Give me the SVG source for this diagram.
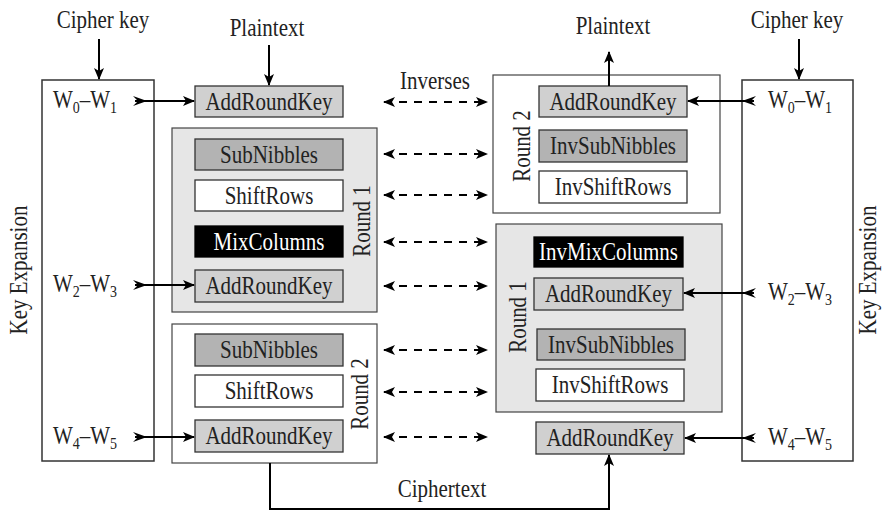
<svg xmlns="http://www.w3.org/2000/svg" width="885" height="511" viewBox="0 0 885 511">
<style>
text{font-family:"Liberation Serif","Times New Roman",serif;fill:#222;font-size:21px;}
.t{text-anchor:middle;}
.sub{font-size:14px;}
.ke{fill:#fff;stroke:#333;stroke-width:1.5;}
.rd{fill:#fff;stroke:#444;stroke-width:1.2;}
.rdg{fill:#e6e6e6;stroke:#444;stroke-width:1.2;}
.ark{fill:#d0d0d0;stroke:#333;stroke-width:1.3;}
.sub-b{fill:#b3b3b3;stroke:#333;stroke-width:1.3;}
.wh{fill:#fff;stroke:#333;stroke-width:1.3;}
.bk{fill:#000;stroke:#000;stroke-width:1.3;}
.wt{fill:#fff;}
.c{fill:none;stroke:#000;stroke-width:2;}
.d{fill:none;stroke:#000;stroke-width:2;stroke-dasharray:8,7;}
</style>
<defs>
<marker id="head" viewBox="0 0 12 10" refX="11" refY="5" markerWidth="12" markerHeight="10" markerUnits="userSpaceOnUse" orient="auto">
<path d="M0,0 L12,5 L0,10 L3,5 z" fill="#000"/>
</marker>
<marker id="dhead" viewBox="0 0 12 10" refX="11" refY="5" markerWidth="12" markerHeight="10" markerUnits="userSpaceOnUse" orient="auto-start-reverse">
<path d="M0,0 L12,5 L0,10 L3,5 z" fill="#000"/>
</marker>
<marker id="tail" viewBox="0 0 14 10" refX="2" refY="5" markerWidth="14" markerHeight="10" markerUnits="userSpaceOnUse" orient="auto">
<path d="M0,0 L14,5 L0,10 L5,5 z" fill="#000"/>
</marker>
</defs>

<g id="key-expansion-left">
<rect class="ke" x="42" y="80" width="112" height="381"/>
<text class="t" transform="translate(27,270) rotate(-90) scale(1,1.17)">Key Expansion</text>
<text transform="translate(53,108) scale(1,1.17)">W<tspan class="sub" dy="4.5">0</tspan><tspan dy="-4.5">–W</tspan><tspan class="sub" dy="4.5">1</tspan></text>
<text transform="translate(53,292) scale(1,1.17)">W<tspan class="sub" dy="4.5">2</tspan><tspan dy="-4.5">–W</tspan><tspan class="sub" dy="4.5">3</tspan></text>
<text transform="translate(53,444) scale(1,1.17)">W<tspan class="sub" dy="4.5">4</tspan><tspan dy="-4.5">–W</tspan><tspan class="sub" dy="4.5">5</tspan></text>
</g>

<g id="key-expansion-right">
<rect class="ke" x="742" y="80" width="111" height="381"/>
<text class="t" transform="translate(876,270) rotate(-90) scale(1,1.17)">Key Expansion</text>
<text transform="translate(768,108) scale(1,1.17)">W<tspan class="sub" dy="4.5">0</tspan><tspan dy="-4.5">–W</tspan><tspan class="sub" dy="4.5">1</tspan></text>
<text transform="translate(768,300) scale(1,1.17)">W<tspan class="sub" dy="4.5">2</tspan><tspan dy="-4.5">–W</tspan><tspan class="sub" dy="4.5">3</tspan></text>
<text transform="translate(768,445) scale(1,1.17)">W<tspan class="sub" dy="4.5">4</tspan><tspan dy="-4.5">–W</tspan><tspan class="sub" dy="4.5">5</tspan></text>
</g>

<g id="labels">
<text class="t" transform="translate(103,28) scale(1,1.17)">Cipher key</text>
<text class="t" transform="translate(797,28) scale(1,1.17)">Cipher key</text>
<text class="t" transform="translate(267,36) scale(1,1.17)">Plaintext</text>
<text class="t" transform="translate(613,34) scale(1,1.17)">Plaintext</text>
<text class="t" transform="translate(435,89) scale(1,1.17)">Inverses</text>
<text class="t" transform="translate(442,497) scale(1,1.17)">Ciphertext</text>
</g>

<g id="enc-initial-ark">
<rect class="ark" x="195" y="86" width="148" height="31"/>
<text class="t" transform="translate(269,109.5) scale(1,1.17)">AddRoundKey</text>
</g>

<g id="enc-round1">
<rect class="rdg" x="172" y="128" width="205" height="184"/>
<text class="t" transform="translate(370,221) rotate(-90) scale(1,1.17)">Round 1</text>
<rect class="sub-b" x="195" y="139" width="148" height="31"/>
<text class="t" transform="translate(269,162.5) scale(1,1.17)">SubNibbles</text>
<rect class="wh" x="195" y="180" width="148" height="31"/>
<text class="t" transform="translate(269,203.5) scale(1,1.17)">ShiftRows</text>
<rect class="bk" x="195" y="226" width="148" height="31"/>
<text class="t wt" transform="translate(269,249.5) scale(1,1.17)">MixColumns</text>
<rect class="ark" x="195" y="270" width="148" height="32"/>
<text class="t" transform="translate(269,294) scale(1,1.17)">AddRoundKey</text>
</g>

<g id="enc-round2">
<rect class="rd" x="172" y="324" width="205" height="139"/>
<text class="t" transform="translate(368,394) rotate(-90) scale(1,1.17)">Round 2</text>
<rect class="sub-b" x="195" y="334" width="148" height="32"/>
<text class="t" transform="translate(269,358) scale(1,1.17)">SubNibbles</text>
<rect class="wh" x="195" y="375" width="148" height="32"/>
<text class="t" transform="translate(269,399) scale(1,1.17)">ShiftRows</text>
<rect class="ark" x="195" y="420" width="148" height="32"/>
<text class="t" transform="translate(269,444) scale(1,1.17)">AddRoundKey</text>
</g>

<g id="dec-round2">
<rect class="rd" x="493" y="75" width="227" height="138"/>
<text class="t" transform="translate(530,146) rotate(-90) scale(1,1.17)">Round 2</text>
<rect class="ark" x="539" y="86" width="148" height="31"/>
<text class="t" transform="translate(613,109.5) scale(1,1.17)">AddRoundKey</text>
<rect class="sub-b" x="539" y="130" width="148" height="32"/>
<text class="t" transform="translate(613,154) scale(1,1.17)">InvSubNibbles</text>
<rect class="wh" x="539" y="171" width="148" height="32"/>
<text class="t" transform="translate(613,195) scale(1,1.17)">InvShiftRows</text>
</g>

<g id="dec-round1">
<rect class="rdg" x="496" y="224" width="226" height="188"/>
<text class="t" transform="translate(526,317) rotate(-90) scale(1,1.17)">Round 1</text>
<rect class="bk" x="534" y="237" width="149" height="30"/>
<text class="t wt" transform="translate(608.5,260) scale(1,1.17)">InvMixColumns</text>
<rect class="ark" x="534" y="278" width="149" height="32"/>
<text class="t" transform="translate(608.5,302) scale(1,1.17)">AddRoundKey</text>
<rect class="sub-b" x="537" y="329" width="148" height="31"/>
<text class="t" transform="translate(611,352.5) scale(1,1.17)">InvSubNibbles</text>
<rect class="wh" x="536" y="369" width="148" height="32"/>
<text class="t" transform="translate(610,393) scale(1,1.17)">InvShiftRows</text>
</g>

<g id="dec-final-ark">
<rect class="ark" x="536" y="422" width="148" height="32"/>
<text class="t" transform="translate(610,446) scale(1,1.17)">AddRoundKey</text>
</g>

<g id="connectors">
<line class="c" x1="99" y1="39" x2="99" y2="79" marker-end="url(#head)"/>
<line class="c" x1="799" y1="39" x2="799" y2="79" marker-end="url(#head)"/>
<line class="c" x1="269" y1="45" x2="269" y2="85" marker-end="url(#head)"/>
<line class="c" x1="609" y1="86" x2="609" y2="52" marker-end="url(#head)"/>
<line class="c" x1="135" y1="101" x2="194" y2="101" marker-start="url(#tail)" marker-end="url(#head)"/>
<line class="c" x1="135" y1="285" x2="194" y2="285" marker-start="url(#tail)" marker-end="url(#head)"/>
<line class="c" x1="135" y1="437" x2="194" y2="437" marker-start="url(#tail)" marker-end="url(#head)"/>
<line class="c" x1="754" y1="101" x2="688" y2="101" marker-start="url(#tail)" marker-end="url(#head)"/>
<line class="c" x1="754" y1="293" x2="684" y2="293" marker-start="url(#tail)" marker-end="url(#head)"/>
<line class="c" x1="754" y1="438" x2="685" y2="438" marker-start="url(#tail)" marker-end="url(#head)"/>
<polyline class="c" points="270,463 270,509 609,509 609,455" marker-end="url(#head)"/>
<line class="d" x1="384" y1="102" x2="487" y2="102" marker-start="url(#dhead)" marker-end="url(#dhead)"/>
<line class="d" x1="384" y1="154" x2="487" y2="154" marker-start="url(#dhead)" marker-end="url(#dhead)"/>
<line class="d" x1="384" y1="195" x2="487" y2="195" marker-start="url(#dhead)" marker-end="url(#dhead)"/>
<line class="d" x1="384" y1="242" x2="487" y2="242" marker-start="url(#dhead)" marker-end="url(#dhead)"/>
<line class="d" x1="384" y1="286" x2="487" y2="286" marker-start="url(#dhead)" marker-end="url(#dhead)"/>
<line class="d" x1="384" y1="350" x2="487" y2="350" marker-start="url(#dhead)" marker-end="url(#dhead)"/>
<line class="d" x1="384" y1="392" x2="487" y2="392" marker-start="url(#dhead)" marker-end="url(#dhead)"/>
<line class="d" x1="384" y1="437" x2="487" y2="437" marker-start="url(#dhead)" marker-end="url(#dhead)"/>
</g>
</svg>
